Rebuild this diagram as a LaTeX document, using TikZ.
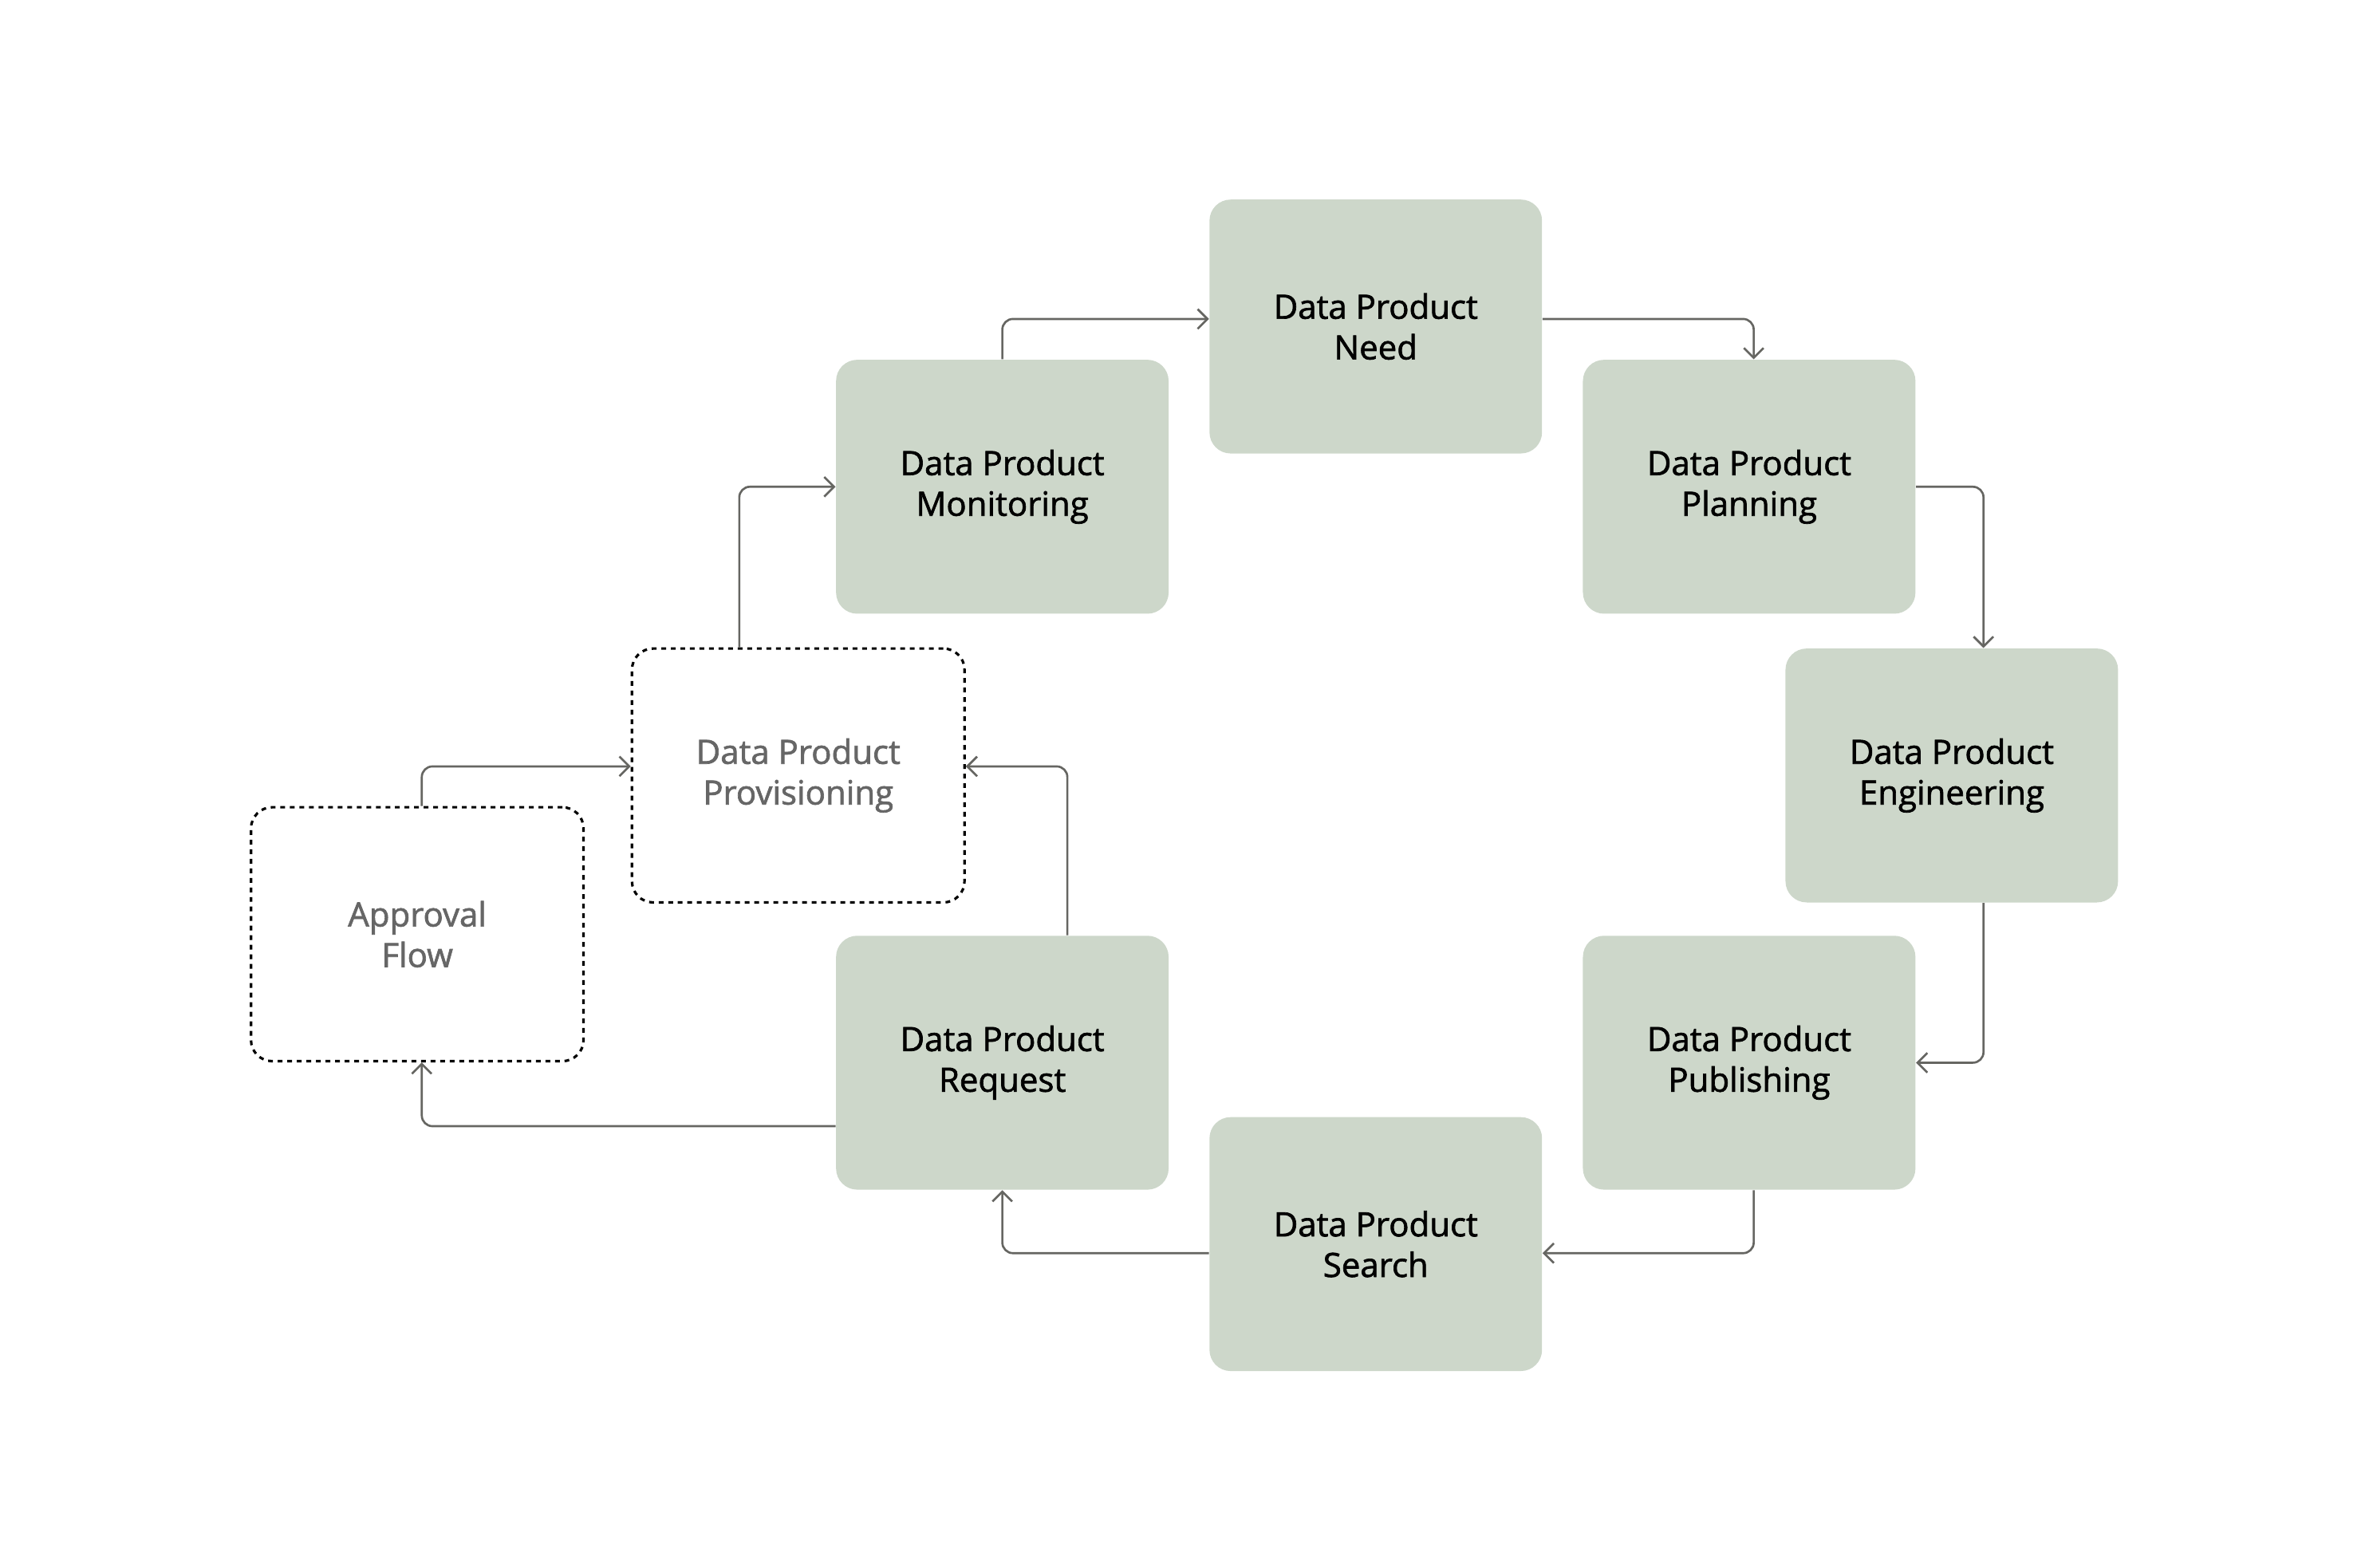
\documentclass[tikz,border=0pt]{standalone}
\usepackage{fontspec}
\setmainfont{Open Sans}[FakeBold=1.6]
\usepackage{xcolor}
\usetikzlibrary{arrows.meta}
\definecolor{boxgreen}{HTML}{CDD7CA}
\definecolor{linegray}{HTML}{666662}
\definecolor{textgray}{HTML}{666666}

\begin{document}
\begin{tikzpicture}[x=0.02cm, y=-0.02cm,
  stage/.style={rectangle, rounded corners=0.28cm, fill=boxgreen,
    minimum width=4.4cm, minimum height=3.36cm, align=center,
    font=\fontsize{12.6}{15.3}\selectfont},
  optstage/.style={stage, fill=none, draw=black, line width=0.95pt,
    dash pattern=on 1.8pt off 1.8pt, text=textgray},
  flow/.style={draw=linegray, line width=0.8pt, rounded corners=4pt,
    -{Straight Barb[length=1.3mm, width=2.6mm]}}]
\useasboundingbox (0,0) rectangle (1567,1037);

\node[stage] (need) at (910,216) {Data Product\\Need};
\node[stage] (mon) at (663,322) {Data Product\\Monitoring};
\node[stage] (plan) at (1157,322) {Data Product\\Planning};
\node[stage] (eng) at (1291,513) {Data Product\\Engineering};
\node[stage] (pub) at (1157,703) {Data Product\\Publishing};
\node[stage] (srch) at (910,823) {Data Product\\Search};
\node[stage] (req) at (663,703) {Data Product\\Request};
% optional steps
\node[optstage] (prov) at (528,513) {Data Product\\Provisioning};
\node[optstage] (appr) at (276,618) {Approval\\Flow};

\draw[flow] (mon.north) |- ([yshift=0.1cm]need.west);
\draw[flow] ([yshift=0.1cm]need.east) -| ([xshift=0.06cm]plan.north);
\draw[flow] (plan.east) -| ([xshift=0.42cm]eng.north);
\draw[flow] ([xshift=0.42cm]eng.south) |- (pub.east);
\draw[flow] ([xshift=0.06cm]pub.south) |- ([yshift=-0.12cm]srch.east);
\draw[flow] ([yshift=-0.12cm]srch.west) -| (req.south);
\draw[flow] ([yshift=-0.84cm]req.west) -| ([xshift=0.06cm]appr.south);
\draw[flow] ([xshift=0.06cm]appr.north) |- ([yshift=0.12cm]prov.west);
\draw[flow] ([xshift=0.86cm]req.north) |- ([yshift=0.12cm]prov.east);
\draw[flow] ([xshift=-0.78cm]prov.north) |- (mon.west);
\end{tikzpicture}
\end{document}
